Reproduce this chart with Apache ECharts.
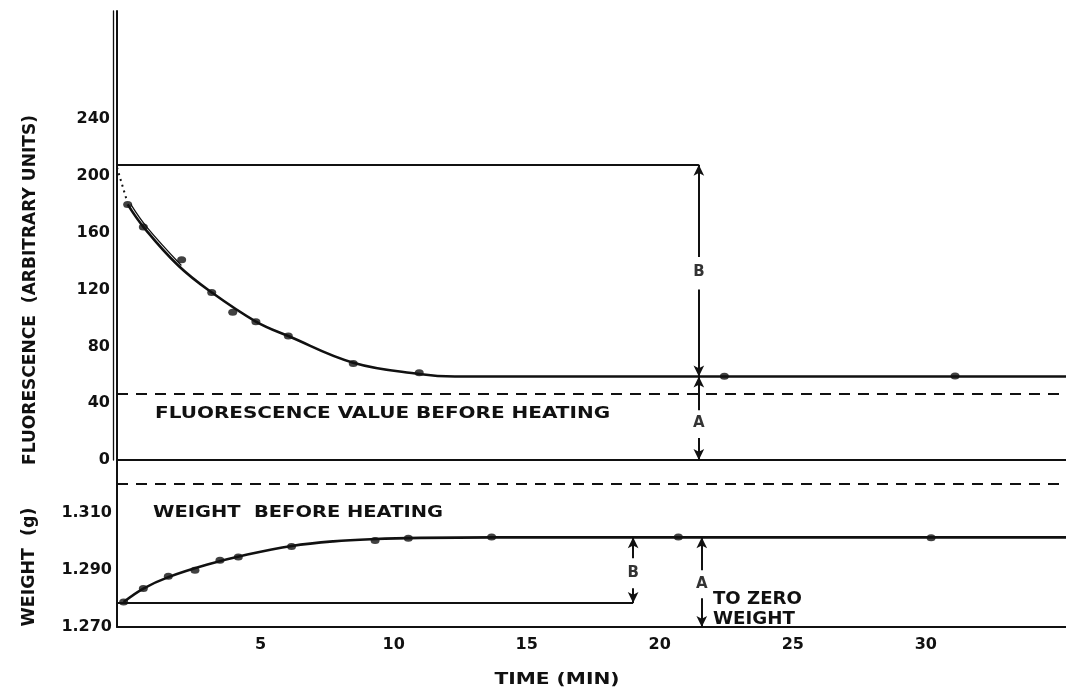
<!DOCTYPE html>
<html><head><meta charset="utf-8">
<script src="https://cdn.jsdelivr.net/npm/echarts@6/dist/echarts.min.js"></script>
<style>html,body{margin:0;padding:0;background:#fff}#c{width:1066px;height:689px}</style>
</head><body><div id="c"></div>
<script>
// ---- tick labels ----
const timeTicks = [5, 10, 15, 20, 25, 30];
const fluorTicks = [0, 40, 80, 120, 160, 200, 240];
const weightTicks = [1.270, 1.290, 1.310];

// ---- fluorescence measurements ----
const fluorPointTime  = [0, 0.59, 2.03, 3.16, 3.95, 4.82, 6.04, 8.48, 10.96, 22.43, 31.1];
const fluorPointValue = [180, 164, 141, 118, 104, 97.4, 87.3, 68, 61.5, 59, 59.2];

// fitted fluorescence curve
const fluorCurveTime  = [0, 0.6, 1.9, 3.16, 4.82, 6.04, 8.48, 10.96, 12.3, 35.27];
const fluorCurveValue = [180, 164, 137, 118, 97.5, 87.3, 68.5, 60.6, 58.8, 58.8];
// second (inner) trace of the early part of the curve
const fluorInnerTime  = [0.12, 0.72, 2.02];
const fluorInnerValue = [180, 164, 137];
// dotted lead-in from initial value
const fluorLeadTime  = [-0.4, -0.05];
const fluorLeadValue = [206, 184];

// ---- weight measurements ----
const weightPointTime  = [-0.15, 0.59, 1.53, 2.53, 3.47, 4.16, 6.16, 9.3, 10.55, 13.68, 20.7, 30.2];
const weightPointValue = [1.2787, 1.2834, 1.2877, 1.2898, 1.2933, 1.2944, 1.2981, 1.3002, 1.3010, 1.3014, 1.3014, 1.3012];
const weightCurveTime  = [-0.15, 0.59, 1.53, 3.0, 4.5, 6.17, 7.73, 9.3, 11.0, 13.7, 35.27];
const weightCurveValue = [1.2787, 1.2834, 1.2874, 1.2918, 1.2953, 1.2983, 1.2999, 1.3007, 1.3011, 1.3013, 1.3013];

// ---- reference levels ----
const fluorInitial = 208;      // initial fluorescence line
const fluorBefore = 47;        // fluorescence value before heating (dashed)
const fluorPlateau = 58.8;
const weightBefore = 1.3167;   // weight before heating (dashed)
const weightStart = 1.2784;
const weightPlateau = 1.3013;
const arrowTimeFluor = 21.47;
const arrowTimeWeightB = 19.0;
const arrowTimeWeightA = 21.58;

const X_MIN = -0.4, X_MAX = 35.27;
const F_MIN = 0, F_MAX = 316.2;
const W_MIN = 1.270, W_MAX = 1.3283;
const INK = '#111';
const FF = 'DejaVu Sans';

const zip = (a, b) => a.map((v, i) => [v, b[i]]);
const arrow = (t, from, to) => [{coord: [t, from], symbol: 'none'}, {coord: [t, to], symbol: 'arrow'}];

const chart = echarts.init(document.getElementById('c'), null, {renderer: 'canvas'});

const axisLabelStyle = {color: INK, fontFamily: FF, fontWeight: 'bold', fontSize: 16};

chart.setOption({
  backgroundColor: '#fff',
  animation: false,
  grid: [
    {left: 117, right: 0, top: 11, bottom: 229},
    {left: 117, right: 0, top: 460, bottom: 62}
  ],
  xAxis: [
    {gridIndex: 0, type: 'value', min: X_MIN, max: X_MAX,
     axisLine: {show: true, onZero: false, lineStyle: {color: INK, width: 2}},
     axisTick: {show: false}, axisLabel: {show: false}, splitLine: {show: false}},
    {gridIndex: 1, type: 'value', min: X_MIN, max: X_MAX,
     axisLine: {show: true, onZero: false, lineStyle: {color: INK, width: 2}},
     axisTick: {show: false},
     axisLabel: Object.assign({customValues: timeTicks, margin: 10}, axisLabelStyle),
     splitLine: {show: false}}
  ],
  yAxis: [
    {gridIndex: 0, type: 'value', min: F_MIN, max: F_MAX,
     axisLine: {show: true, onZero: false, lineStyle: {color: INK, width: 2}},
     axisTick: {show: false},
     axisLabel: Object.assign({customValues: fluorTicks, margin: 7}, axisLabelStyle),
     splitLine: {show: false}},
    {gridIndex: 1, type: 'value', min: W_MIN, max: W_MAX,
     axisLine: {show: true, onZero: false, lineStyle: {color: INK, width: 2}},
     axisTick: {show: false},
     axisLabel: Object.assign({customValues: weightTicks, margin: 5, formatter: v => v.toFixed(3)}, axisLabelStyle),
     splitLine: {show: false}},
    {gridIndex: 0, type: 'value', min: 0, max: 1, position: 'left', offset: 4,
     axisLine: {show: true, onZero: false, lineStyle: {color: INK, width: 1.3}},
     axisTick: {show: false}, axisLabel: {show: false}, splitLine: {show: false}}
  ],
  series: [
    {type: 'line', xAxisIndex: 0, yAxisIndex: 0, data: zip(fluorCurveTime, fluorCurveValue),
     smooth: 0.4, showSymbol: false, silent: true,
     lineStyle: {color: INK, width: 2.6}},
    {type: 'line', xAxisIndex: 0, yAxisIndex: 0, data: zip(fluorInnerTime, fluorInnerValue),
     smooth: 0.4, showSymbol: false, silent: true, lineStyle: {color: INK, width: 1.3}},
    {type: 'line', xAxisIndex: 0, yAxisIndex: 0, data: zip(fluorLeadTime, fluorLeadValue),
     showSymbol: false, silent: true, lineStyle: {color: INK, width: 2, type: [2, 4]}},
    {type: 'scatter', xAxisIndex: 0, yAxisIndex: 0, data: zip(fluorPointTime, fluorPointValue),
     symbol: 'circle', symbolSize: [9, 7], itemStyle: {color: INK}, silent: true,
     markLine: {
       silent: true, animation: false, symbol: ['none', 'none'], symbolSize: [8, 11], label: {show: false},
       lineStyle: {color: INK, width: 2, type: 'solid'},
       data: [
         [{coord: [X_MIN, fluorInitial]}, {coord: [arrowTimeFluor, fluorInitial]}],
         {yAxis: fluorBefore, lineStyle: {type: [11, 8], width: 2}},
         arrow(arrowTimeFluor, 143, fluorInitial),
         arrow(arrowTimeFluor, 120, fluorPlateau),
         arrow(arrowTimeFluor, 35, fluorPlateau),
         arrow(arrowTimeFluor, 15.5, 0)
       ]
     }},
    {type: 'scatter', xAxisIndex: 0, yAxisIndex: 0, symbolSize: 0, silent: true,
     data: [{name: 'B', value: [arrowTimeFluor, 132.4]}, {name: 'A', value: [arrowTimeFluor, 26]}],
     label: {show: true, position: 'inside', formatter: '{b}', color: '#000', fontFamily: FF, fontWeight: 'bold', fontSize: 15}},

    {type: 'line', xAxisIndex: 1, yAxisIndex: 1, data: zip(weightCurveTime, weightCurveValue),
     smooth: 0.4, showSymbol: false, silent: true,
     lineStyle: {color: INK, width: 2.6}},
    {type: 'scatter', xAxisIndex: 1, yAxisIndex: 1, data: zip(weightPointTime, weightPointValue),
     symbol: 'circle', symbolSize: [9, 7], itemStyle: {color: INK}, silent: true,
     markLine: {
       silent: true, animation: false, symbol: ['none', 'none'], symbolSize: [8, 11], label: {show: false},
       lineStyle: {color: INK, width: 2, type: 'solid'},
       data: [
         [{coord: [X_MIN, weightStart]}, {coord: [arrowTimeWeightB, weightStart]}],
         {yAxis: weightBefore, lineStyle: {type: [11, 8], width: 2}},
         arrow(arrowTimeWeightB, 1.29396, weightPlateau),
         arrow(arrowTimeWeightB, 1.28350, weightStart),
         arrow(arrowTimeWeightA, 1.28978, weightPlateau),
         arrow(arrowTimeWeightA, 1.2800, W_MIN)
       ]
     }},
    {type: 'scatter', xAxisIndex: 1, yAxisIndex: 1, symbolSize: 0, silent: true,
     data: [{name: 'B', value: [arrowTimeWeightB, 1.28873]}, {name: 'A', value: [arrowTimeWeightA, 1.28489]}],
     label: {show: true, position: 'inside', formatter: '{b}', color: '#000', fontFamily: FF, fontWeight: 'bold', fontSize: 15}}
  ]
});

// ---- text annotations (stretched to the drawing's lettering width) ----
const mctx = document.createElement('canvas').getContext('2d');
function stretch(text, size, target) {
  mctx.font = 'bold ' + size + 'px "' + FF + '"';
  return target / mctx.measureText(text).width;
}
function note(text, size, target, pos, align, rot) {
  const s = stretch(text, size, target);
  return {type: 'text', x: pos[0], y: pos[1], rotation: rot || 0, scaleX: s, silent: true,
    style: {text: text, fill: INK, fontFamily: FF, fontWeight: 'bold', fontSize: size,
            align: align || 'left', verticalAlign: 'middle'}};
}
const g0 = (t, v) => chart.convertToPixel({gridIndex: 0}, [t, v]);
const g1 = (t, v) => chart.convertToPixel({gridIndex: 1}, [t, v]);

chart.setOption({
  graphic: [
    note('FLUORESCENCE VALUE BEFORE HEATING', 16, 455, g0(1.03, 32.4)),
    note('WEIGHT  BEFORE HEATING', 16, 290, g1(0.95, 1.3100)),
    note('TO ZERO', 17, 89, g1(22.0, 1.27966)),
    note('WEIGHT', 17, 82, g1(22.0, 1.27269)),
    note('FLUORESCENCE  (ARBITRARY UNITS)', 18, 350, [30, 290], 'center', Math.PI / 2),
    note('WEIGHT  (g)', 18, 119, [29, 567], 'center', Math.PI / 2),
    note('TIME (MIN)', 16, 125, [557, 680], 'center')
  ]
});
</script></body></html>
